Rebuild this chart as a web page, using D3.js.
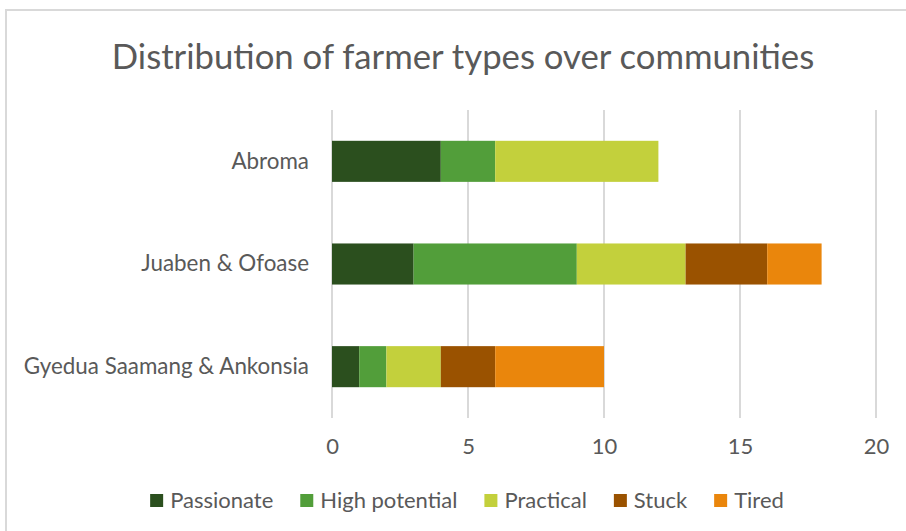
<!DOCTYPE html>
<html>
<head>
<meta charset="utf-8">
<script src="https://cdn.jsdelivr.net/npm/d3@7.9.0/dist/d3.min.js"></script>
<style>
  body { margin: 0; background: #fff; }
  svg { display: block; font-family: Lato, "Open Sans", sans-serif; }
</style>
</head>
<body>
<svg width="906" height="531"></svg>
<script>
const communities = ['Abroma', 'Juaben & Ofoase', 'Gyedua Saamang & Ankonsia'];
const farmerTypes = ['Passionate', 'High potential', 'Practical', 'Stuck', 'Tired'];
const passionate = [4, 3, 1];
const highPotential = [2, 6, 1];
const practical = [6, 4, 2];
const stuck = [0, 3, 2];
const tired = [0, 2, 4];
const xTicks = [0, 5, 10, 15, 20];
const colors = ['#2b4f1e', '#529e3a', '#c3d03c', '#9a5200', '#ea860c'];

const series = [passionate, highPotential, practical, stuck, tired];
let rows = communities.map((c, i) => {
  let row = { community: c };
  farmerTypes.forEach((t, j) => { row[t] = series[j][i]; });
  return row;
});

let svg = d3.select('svg');

// chart frame
svg.append('rect')
  .attr('x', 6).attr('y', 10)
  .attr('width', 920).attr('height', 540)
  .attr('fill', 'none')
  .attr('stroke', '#d9d9d9')
  .attr('stroke-width', 2);

let x = d3.scaleLinear().domain([0, 20]).range([332, 876]);
let y = d3.scaleBand().domain(communities).range([110, 418]).paddingInner(0.6).paddingOuter(0.3);

// gridlines
svg.append('g')
  .selectAll('line')
  .data(xTicks)
  .join('line')
  .attr('x1', (d) => x(d)).attr('x2', (d) => x(d))
  .attr('y1', 110).attr('y2', 418)
  .attr('stroke', '#d9d9d9')
  .attr('stroke-width', 2);

let stacked = d3.stack().keys(farmerTypes)(rows);

svg.append('g')
  .selectAll('g')
  .data(stacked)
  .join('g')
  .attr('fill', (d, i) => colors[i])
  .selectAll('rect')
  .data((d) => d)
  .join('rect')
  .attr('x', (d) => x(d[0]))
  .attr('y', (d) => y(d.data.community))
  .attr('width', (d) => x(d[1]) - x(d[0]))
  .attr('height', y.bandwidth());

// x axis labels
let xAxis = svg.append('g')
  .attr('transform', 'translate(0,418)')
  .call(d3.axisBottom(x).tickValues(xTicks).tickSize(0).tickPadding(20));
xAxis.select('.domain').remove();
xAxis.selectAll('text')
  .attr('font-size', 22)
  .attr('font-family', 'Lato, sans-serif')
  .attr('fill', '#595959');

// y axis labels
let yAxis = svg.append('g')
  .attr('transform', 'translate(332,0)')
  .call(d3.axisLeft(y).tickSize(0).tickPadding(23));
yAxis.select('.domain').remove();
yAxis.selectAll('text')
  .attr('font-size', 22.4)
  .attr('font-family', 'Lato, sans-serif')
  .attr('fill', '#595959');

// title
svg.append('text')
  .attr('x', 463).attr('y', 69)
  .attr('text-anchor', 'middle')
  .attr('font-size', 34.7)
  .attr('fill', '#595959')
  .text('Distribution of farmer types over communities');

// legend, laid out from measured text widths and centred
let legend = svg.append('g');
let items = farmerTypes.map((t, i) => {
  let g = legend.append('g');
  g.append('rect').attr('y', -14).attr('width', 13).attr('height', 13).attr('fill', colors[i]);
  let txt = g.append('text')
    .attr('x', 20)
    .attr('font-size', 22)
    .attr('fill', '#595959')
    .text(t);
  return { g, w: 20 + txt.node().getComputedTextLength() };
});
let gap = 27;
let total = d3.sum(items, (d) => d.w) + gap * (items.length - 1);
let cx = 467 - total / 2;
items.forEach((d) => {
  d.g.attr('transform', `translate(${cx},508)`);
  cx += d.w + gap;
});
</script>
</body>
</html>
